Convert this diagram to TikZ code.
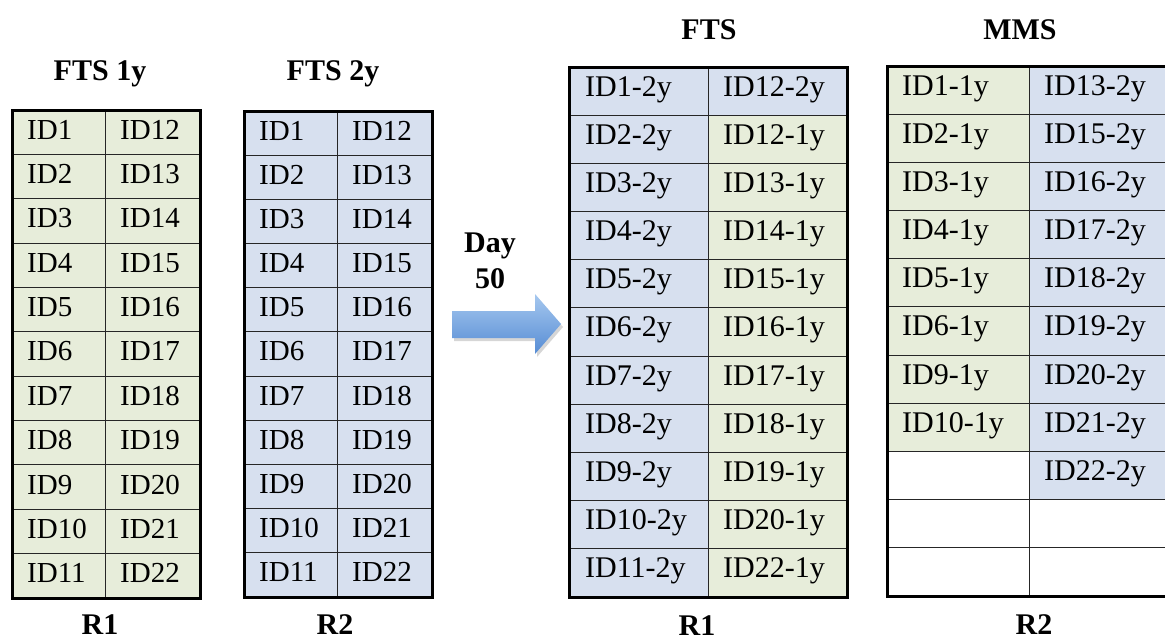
\documentclass[tikz,border=0pt]{standalone}
\usepackage{fontspec}
\setmainfont{Liberation Serif}
\definecolor{cellgreen}{RGB}{231,237,218}
\definecolor{cellblue}{RGB}{215,224,239}
\definecolor{arrowtop}{RGB}{166,200,239}
\definecolor{arrowbot}{RGB}{86,140,212}

\begin{document}
\begin{tikzpicture}[x=1pt,y=-1pt,
  celltext/.style={anchor=base west, inner sep=0pt, font=\fontsize{29}{34}\selectfont},
  rcelltext/.style={anchor=base west, inner sep=0pt, font=\fontsize{30}{35}\selectfont},
  title/.style={anchor=base, inner sep=0pt, font=\fontsize{30}{36}\selectfont\bfseries},
  gridline/.style={line width=1pt, black!85},
  frame/.style={line width=3pt, black}]
\clip (0,0) rectangle (1165,640);
\fill[white] (0,0) rectangle (1165,640);

% ---------- FTS 1y (all green) ----------
\def\rowh{44.36}
\fill[cellgreen] (12,110) rectangle (200,598);
\foreach \r in {1,...,10} \draw[gridline] (12,{110+\r*\rowh}) -- (200,{110+\r*\rowh});
\draw[gridline] (105,110) -- (105,598);
\draw[frame] (12,110) rectangle (200,598);
\foreach \r in {1,...,11} {
  \pgfmathtruncatemacro\b{\r+11}
  \node[celltext] (oa\r) at (27,{110+(\r-0.5)*\rowh+7}) {ID\r};
  \node[celltext] (ob\r) at (120,{110+(\r-0.5)*\rowh+7}) {ID\b};
}
\node[title] (t1) at (100,80) {FTS 1y};
\node[title] (r1a) at (100,634) {R1};

% ---------- FTS 2y (all blue) ----------
\def\rowhb{44.18}
\fill[cellblue] (244,111) rectangle (432,597);
\foreach \r in {1,...,10} \draw[gridline] (244,{111+\r*\rowhb}) -- (432,{111+\r*\rowhb});
\draw[gridline] (337,111) -- (337,597);
\draw[frame] (244,111) rectangle (432,597);
\foreach \r in {1,...,11} {
  \pgfmathtruncatemacro\b{\r+11}
  \node[celltext] (ta\r) at (259,{111+(\r-0.5)*\rowhb+7}) {ID\r};
  \node[celltext] (tb\r) at (352,{111+(\r-0.5)*\rowhb+7}) {ID\b};
}
\node[title] (t2) at (333,80) {FTS 2y};
\node[title] (r2a) at (335,634) {R2};

% ---------- Day 50 block arrow ----------
\node[title] (day) at (490,252) {Day};
\node[title] (fifty) at (490,288) {50};
\fill[black!35, opacity=.45] (454,314) -- (537,314) -- (537,297) -- (563,327) -- (537,357) -- (537,341) -- (454,341) -- cycle;
\shade[top color=arrowtop, bottom color=arrowbot] (452,311) -- (535,311) -- (535,294) -- (561,324) -- (535,354) -- (535,338) -- (452,338) -- cycle;

% ---------- FTS after day 50 ----------
\def\rowhc{48.18}
\foreach \r/\txt/\clr in {1/ID12-2y/cellblue, 2/ID12-1y/cellgreen, 3/ID13-1y/cellgreen,
    4/ID14-1y/cellgreen, 5/ID15-1y/cellgreen, 6/ID16-1y/cellgreen, 7/ID17-1y/cellgreen,
    8/ID18-1y/cellgreen, 9/ID19-1y/cellgreen, 10/ID20-1y/cellgreen, 11/ID22-1y/cellgreen} {
  \fill[cellblue] (569,{67+(\r-1)*\rowhc}) rectangle (708,{67+\r*\rowhc});
  \fill[\clr] (708,{67+(\r-1)*\rowhc}) rectangle (847,{67+\r*\rowhc});
  \node[rcelltext] (fa\r) at (585,{67+(\r-0.5)*\rowhc+5}) {ID\r-2y};
  \node[rcelltext] (fb\r) at (723,{67+(\r-0.5)*\rowhc+5}) {\txt};
}
\foreach \r in {1,...,10} \draw[gridline] (569,{67+\r*\rowhc}) -- (847,{67+\r*\rowhc});
\draw[gridline] (708,67) -- (708,597);
\draw[frame] (569,67) rectangle (847,597);
\node[title] (t3) at (709,39) {FTS};
\node[title] (r1b) at (697,635) {R1};

% ---------- MMS after day 50 ----------
\foreach \r/\txt in {1/ID1-1y, 2/ID2-1y, 3/ID3-1y, 4/ID4-1y, 5/ID5-1y, 6/ID6-1y, 7/ID9-1y, 8/ID10-1y} {
  \fill[cellgreen] (887,{66+(\r-1)*\rowhc}) rectangle (1029,{66+\r*\rowhc});
  \node[rcelltext] (ma\r) at (902,{66+(\r-0.5)*\rowhc+5}) {\txt};
}
\foreach \r/\txt in {1/ID13-2y, 2/ID15-2y, 3/ID16-2y, 4/ID17-2y, 5/ID18-2y, 6/ID19-2y, 7/ID20-2y, 8/ID21-2y, 9/ID22-2y} {
  \fill[cellblue] (1029,{66+(\r-1)*\rowhc}) rectangle (1168,{66+\r*\rowhc});
  \node[rcelltext] (mb\r) at (1044,{66+(\r-0.5)*\rowhc+5}) {\txt};
}
\foreach \r in {1,...,10} \draw[gridline] (887,{66+\r*\rowhc}) -- (1168,{66+\r*\rowhc});
\draw[gridline] (1029,66) -- (1029,596);
\draw[frame] (887,66) rectangle (1168,596);
\node[title] (t4) at (1020,39) {MMS};
\node[title] (r2b) at (1034,634) {R2};
\end{tikzpicture}
\end{document}
